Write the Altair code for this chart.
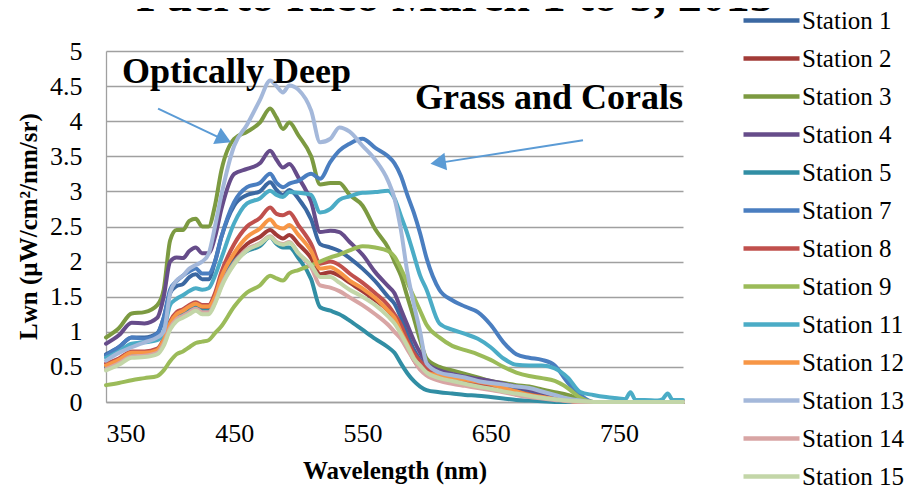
import altair as alt
import pandas as pd

# ---------------- data ----------------
WAVELENGTH = [350, 360, 370, 380, 390, 395, 400, 405, 410, 415, 420, 425, 430, 435, 440,
              450, 460, 470, 478, 483, 488, 493, 500, 510, 517, 525, 532, 540, 550, 560,
              570, 575, 580, 585, 590, 595, 600, 610, 620, 630, 640, 650, 660, 670, 680,
              690, 700, 710, 720]
TAIL_WL = [730, 740, 750, 760, 770, 780, 790, 800]
TAIL_ZERO = [0, 0, 0, 0, 0, 0, 0, 0]
ST11_TAIL_WL = [730, 740, 750, 755, 759, 763, 770, 780, 784, 788, 792, 800]
ST11_TAIL = [0.10, 0.07, 0.05, 0.04, 0.14, 0.03, 0.03, 0.02, 0.04, 0.12, 0.03, 0.03]

STATIONS = ["Station 1", "Station 2", "Station 3", "Station 4", "Station 5", "Station 7",
            "Station 8", "Station 9", "Station 11", "Station 12", "Station 13",
            "Station 14", "Station 15"]
COLORS = ["#3B68A2", "#A23B37", "#7C9A41", "#664C8A", "#318EA4", "#4A7EC0", "#C0504D",
          "#9BBB59", "#4BACC6", "#F79646", "#A4B8DA", "#D8A5A4", "#C3D6A8"]
Y_TICKS = [0, 0.5, 1, 1.5, 2, 2.5, 3, 3.5, 4, 4.5, 5]
X_TICKS = [350, 450, 550, 650, 750]

S1 = [0.68, 0.78, 0.92, 0.92, 0.98, 1.2, 1.55, 1.65, 1.68, 1.78, 1.82, 1.75, 1.75, 2.0, 2.35,
      2.8, 2.95, 3.0, 3.13, 3.02, 2.95, 3.02, 2.9, 2.6, 2.25, 2.2, 2.15, 2.05, 1.9, 1.72,
      1.5, 1.4, 1.2, 0.97, 0.75, 0.6, 0.48, 0.4, 0.36, 0.33, 0.3, 0.27, 0.23, 0.19, 0.15,
      0.1, 0.06, 0.03, 0.01]
S2 = [0.5, 0.58, 0.68, 0.68, 0.72, 0.85, 1.1, 1.22, 1.27, 1.33, 1.38, 1.33, 1.33, 1.47, 1.72,
      2.05, 2.25, 2.35, 2.45, 2.38, 2.33, 2.38, 2.25, 2.05, 1.82, 1.85, 1.8, 1.7, 1.58, 1.45,
      1.3, 1.18, 1.0, 0.8, 0.6, 0.47, 0.4, 0.33, 0.29, 0.26, 0.23, 0.2, 0.16, 0.12, 0.09,
      0.06, 0.03, 0.01, 0.0]
S3 = [0.92, 1.05, 1.26, 1.28, 1.38, 1.6, 2.3, 2.45, 2.45, 2.58, 2.61, 2.5, 2.5, 2.8, 3.3,
      3.75, 3.85, 3.98, 4.18, 4.05, 3.89, 3.98, 3.8, 3.5, 3.1, 3.12, 3.12, 2.95, 2.8, 2.46,
      2.2, 2.0, 1.8, 1.5, 1.2, 0.88, 0.62, 0.5, 0.45, 0.4, 0.35, 0.3, 0.27, 0.24, 0.22,
      0.18, 0.14, 0.1, 0.04]
S4 = [0.83, 0.95, 1.13, 1.12, 1.2, 1.5, 2.0, 2.06, 2.05, 2.15, 2.2, 2.12, 2.12, 2.35, 2.75,
      3.25, 3.32, 3.4, 3.58, 3.45, 3.34, 3.39, 3.2, 2.85, 2.42, 2.44, 2.42, 2.28, 2.1, 1.85,
      1.65, 1.55, 1.32, 1.1, 0.88, 0.7, 0.56, 0.45, 0.4, 0.36, 0.33, 0.3, 0.26, 0.22, 0.18,
      0.13, 0.08, 0.04, 0.01]
S5 = [0.5, 0.57, 0.66, 0.67, 0.71, 0.85, 1.08, 1.2, 1.25, 1.3, 1.35, 1.3, 1.3, 1.44, 1.68,
      2.0, 2.15, 2.22, 2.35, 2.25, 2.2, 2.2, 2.05, 1.75, 1.35, 1.3, 1.25, 1.16, 1.03, 0.9,
      0.78, 0.7, 0.55, 0.41, 0.3, 0.22, 0.17, 0.14, 0.12, 0.1, 0.09, 0.07, 0.05, 0.03, 0.02,
      0.01, 0.0, 0.0, 0.0]
S7 = [0.66, 0.78, 0.92, 0.9, 0.97, 1.2, 1.6, 1.72, 1.8, 1.86, 1.9, 1.83, 1.83, 2.0, 2.35,
      2.85, 3.06, 3.12, 3.25, 3.12, 3.06, 3.11, 3.15, 3.25, 3.18, 3.42, 3.58, 3.68, 3.75, 3.62,
      3.5, 3.4, 3.22, 2.95, 2.7, 2.4, 2.05, 1.6, 1.45, 1.36, 1.28, 1.1, 0.85, 0.68, 0.63,
      0.6, 0.52, 0.28, 0.1]
S8 = [0.55, 0.62, 0.72, 0.72, 0.76, 0.9, 1.15, 1.28, 1.32, 1.38, 1.42, 1.38, 1.38, 1.55, 1.85,
      2.25, 2.5, 2.62, 2.77, 2.68, 2.66, 2.7, 2.52, 2.25, 1.97, 2.0, 1.95, 1.83, 1.7, 1.55,
      1.38, 1.25, 1.1, 0.88, 0.7, 0.58, 0.48, 0.38, 0.33, 0.29, 0.26, 0.23, 0.19, 0.15, 0.11,
      0.07, 0.04, 0.02, 0.0]
S9 = [0.24, 0.27, 0.31, 0.34, 0.37, 0.45, 0.58, 0.68, 0.72, 0.78, 0.84, 0.86, 0.88, 0.98, 1.08,
      1.36, 1.56, 1.66, 1.8, 1.76, 1.73, 1.83, 1.88, 1.95, 2.0, 2.06, 2.1, 2.16, 2.22, 2.2,
      2.15, 2.07, 1.9, 1.7, 1.5, 1.3, 1.1, 0.92, 0.8, 0.74, 0.68, 0.6, 0.5, 0.42, 0.37,
      0.34, 0.3, 0.2, 0.06]
S11 = [0.63, 0.72, 0.83, 0.85, 0.88, 1.0, 1.38, 1.47, 1.52, 1.58, 1.62, 1.6, 1.62, 1.8, 2.05,
       2.55, 2.83, 2.9, 3.01, 2.95, 2.92, 2.99, 2.98, 2.95, 2.7, 2.75, 2.88, 2.93, 2.98, 2.99,
       3.01, 2.9, 2.65, 2.4, 2.1, 1.8, 1.6, 1.12, 1.03, 0.97, 0.9, 0.78, 0.62, 0.53, 0.52,
       0.52, 0.48, 0.35, 0.14]
S12 = [0.52, 0.6, 0.7, 0.7, 0.74, 0.88, 1.12, 1.25, 1.3, 1.36, 1.4, 1.36, 1.36, 1.5, 1.78,
       2.12, 2.35, 2.47, 2.6, 2.5, 2.47, 2.52, 2.38, 2.15, 1.9, 1.92, 1.85, 1.73, 1.62, 1.48,
       1.3, 1.2, 1.0, 0.82, 0.63, 0.5, 0.42, 0.38, 0.35, 0.32, 0.29, 0.26, 0.2, 0.15, 0.1,
       0.07, 0.04, 0.02, 0.0]
S13 = [0.59, 0.7, 0.78, 0.85, 0.92, 1.0, 1.55, 1.73, 1.8, 1.9, 1.95, 2.0, 2.11, 2.5, 2.95,
       3.65, 3.95, 4.3, 4.58, 4.5, 4.41, 4.51, 4.45, 4.15, 3.7, 3.75, 3.91, 3.85, 3.65, 3.45,
       3.15, 2.9, 2.45, 1.85, 1.4, 1.0, 0.55, 0.42, 0.38, 0.35, 0.3, 0.27, 0.25, 0.22, 0.2,
       0.15, 0.1, 0.05, 0.02]
S14 = [0.47, 0.55, 0.65, 0.66, 0.7, 0.83, 1.06, 1.18, 1.23, 1.28, 1.33, 1.28, 1.28, 1.42, 1.66,
       1.98, 2.18, 2.26, 2.36, 2.28, 2.25, 2.28, 2.12, 1.92, 1.66, 1.63, 1.58, 1.49, 1.38, 1.25,
       1.1, 1.0, 0.9, 0.75, 0.6, 0.46, 0.38, 0.3, 0.26, 0.23, 0.2, 0.17, 0.14, 0.1, 0.07,
       0.05, 0.03, 0.01, 0.0]
S15 = [0.45, 0.53, 0.63, 0.64, 0.68, 0.8, 1.03, 1.15, 1.2, 1.25, 1.3, 1.25, 1.25, 1.4, 1.64,
       1.96, 2.16, 2.25, 2.35, 2.27, 2.24, 2.27, 2.12, 1.95, 1.78, 1.78, 1.7, 1.6, 1.5, 1.38,
       1.22, 1.12, 0.97, 0.8, 0.62, 0.52, 0.42, 0.34, 0.3, 0.26, 0.22, 0.19, 0.15, 0.12, 0.09,
       0.06, 0.04, 0.02, 0.01]

SERIES = [S1, S2, S3, S4, S5, S7, S8, S9, S11, S12, S13, S14, S15]

rows = []
for order, (name, vals) in enumerate(zip(STATIONS, SERIES)):
    for w, v in zip(WAVELENGTH, vals):
        rows.append({"station": name, "order": order, "wl": w, "lwn": v})
    if name == "Station 11":
        tw, tv = ST11_TAIL_WL, ST11_TAIL
    else:
        tw, tv = TAIL_WL, TAIL_ZERO
    for w, v in zip(tw, tv):
        rows.append({"station": name, "order": order, "wl": w, "lwn": v})
df = pd.DataFrame(rows)

# annotations (data coordinates)
LABELS = pd.DataFrame({"wl": [362.5, 591.0], "lwn": [4.55, 4.18],
                       "text": ["Optically Deep", "Grass and Corals"]})
ARROWS = pd.DataFrame({"wl": [390.6, 722.0], "lwn": [4.18, 3.73],
                       "wl2": [438.0, 611.0], "lwn2": [3.77, 3.41]})
HEADS = pd.DataFrame({"wl": [442.0, 609.0], "lwn": [3.745, 3.41], "ang": [25.0, 171.5]})

FONT = "Liberation Serif"
X = alt.Scale(domain=[350, 800], nice=False, zero=False)
Y = alt.Scale(domain=[0, 5], nice=False)
AX_X = alt.Axis(values=X_TICKS, tickCount=12, title="Wavelength (nm)", grid=False,
                ticks=False, labelPadding=18, labelOverlap=False, titleY=76,
                titleBaseline="alphabetic")
AX_Y = alt.Axis(values=Y_TICKS, tickCount=12, format="~g", title="Lwn (µW/cm²/nm/sr)",
                ticks=False, labelPadding=24, labelOverlap=False, grid=True,
                titleX=-78, titleY=175, titleBaseline="middle", titleAlign="center",
                titleAngle=-90)
XE = alt.X("wl:Q", scale=X, axis=AX_X)
YE = alt.Y("lwn:Q", scale=Y, axis=AX_Y)

lines = alt.Chart(df).mark_line(strokeWidth=4, interpolate="monotone",
                                strokeJoin="round", strokeCap="round").encode(
    x=XE, y=YE,
    color=alt.Color("station:N", sort=STATIONS,
                    scale=alt.Scale(domain=STATIONS, range=COLORS),
                    legend=alt.Legend(orient="none", legendX=649, legendY=-47, title=None,
                                      symbolType="M-2,0H2", symbolSize=784,
                                      symbolStrokeWidth=4.5, labelFont=FONT,
                                      labelFontSize=25, rowPadding=8, labelOffset=14,
                                      padding=0, labelColor="black", labelLimit=300)),
    order=alt.Order("order:Q"),
)

labels = alt.Chart(LABELS).mark_text(font=FONT, fontSize=36, fontWeight="bold", align="left",
                                     baseline="alphabetic", color="black").encode(
    x=XE, y=YE, text="text:N")

arrows = alt.Chart(ARROWS).mark_rule(color="#5B9BD5", strokeWidth=2).encode(
    x=XE, y=YE, x2="wl2:Q", y2="lwn2:Q")

heads = alt.Chart(HEADS).mark_point(shape="triangle-right", filled=True, opacity=1,
                                    color="#5B9BD5", size=320).encode(
    x=XE, y=YE, angle=alt.Angle("ang:Q", scale=None))

title = alt.Chart(pd.DataFrame({"t": ["Puerto Rico March 1 to 5, 2015"]})).mark_text(
    font=FONT, fontSize=48, fontWeight="bold", align="center", baseline="alphabetic",
    color="black").encode(x=alt.value(349), y=alt.value(-40), text="t:N")

chart = alt.layer(lines, labels, arrows, heads, title).properties(
    width=577, height=351,
    autosize=alt.AutoSizeParams(type="none"),
    padding={"left": 98, "top": 43, "right": 224, "bottom": 86},
).configure_view(stroke=None).configure_axis(
    labelFont=FONT, labelFontSize=26, labelColor="black",
    titleFont=FONT, titleFontSize=25, titleFontWeight="bold", titleColor="black",
    domainColor="#A0A0A0", domainWidth=1.3, gridColor="#A0A0A0", gridWidth=1.3,
)

chart.save("out.html", embed_options={"renderer": "svg", "actions": False})
